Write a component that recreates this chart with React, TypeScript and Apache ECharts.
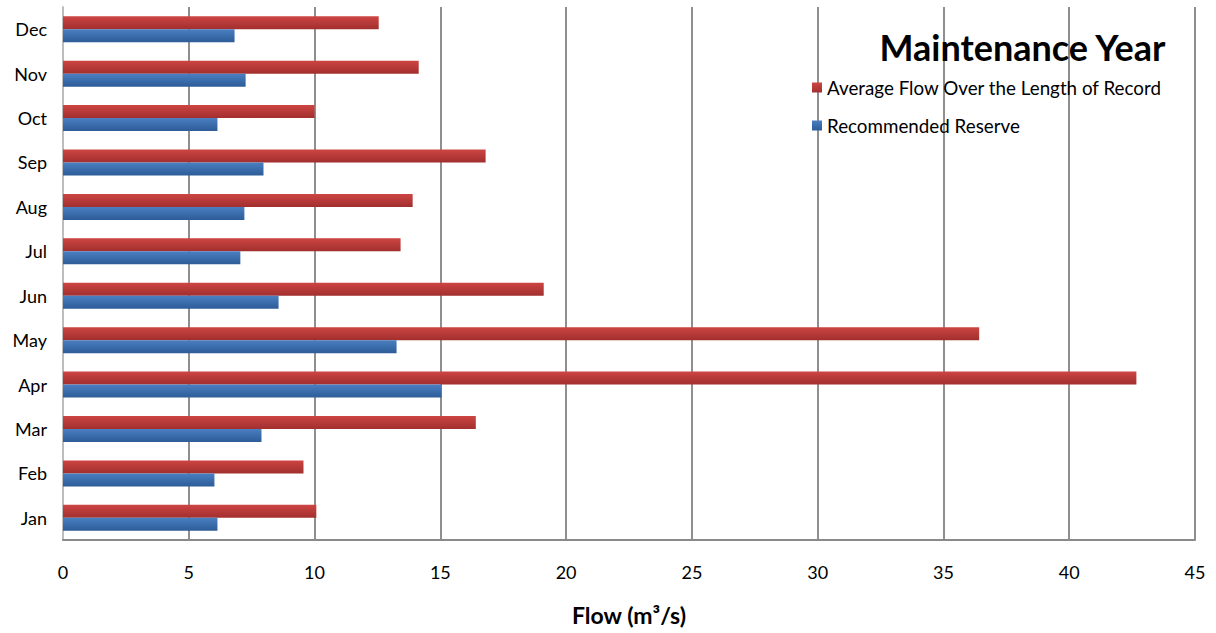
import React, { useEffect, useRef } from "react";
import * as echarts from "echarts";

const months = ["Jan", "Feb", "Mar", "Apr", "May", "Jun", "Jul", "Aug", "Sep", "Oct", "Nov", "Dec"];
const averageFlow = [10.07, 9.56, 16.41, 42.67, 36.42, 19.11, 13.42, 13.9, 16.8, 10.0, 14.14, 12.55];
const recommendedReserve = [6.14, 6.02, 7.89, 15.05, 13.26, 8.57, 7.05, 7.21, 7.97, 6.14, 7.26, 6.82];
const seriesNames = ["Average Flow Over the Length of Record", "Recommended Reserve"];
const titleText = "Maintenance Year";
const axisTitle = "Flow (m³/s)";

const FONT = "Lato, 'Open Sans', sans-serif";

export default function App() {
  const ref = useRef<HTMLDivElement>(null);
  useEffect(() => {
    if (!ref.current) return;
    const chart = echarts.init(ref.current, undefined, { renderer: "svg" });
    const redGrad = new echarts.graphic.LinearGradient(0, 0, 0, 1, [
      { offset: 0, color: "#cd4543" },
      { offset: 1, color: "#a12f2e" },
    ]);
    const blueGrad = new echarts.graphic.LinearGradient(0, 0, 0, 1, [
      { offset: 0, color: "#4a7fc1" },
      { offset: 1, color: "#2d5c98" },
    ]);
    chart.setOption({
      animation: false,
      backgroundColor: "#ffffff",
      textStyle: { fontFamily: FONT },
      title: {
        text: titleText,
        right: 49,
        top: 29,
        padding: 0,
        textStyle: { fontFamily: FONT, fontSize: 36, fontWeight: "bold", color: "#000" },
      },
      legend: {
        data: seriesNames,
        orient: "vertical",
        left: 807,
        top: 73,
        itemWidth: 10,
        itemHeight: 10,
        itemGap: 19,
        icon: "rect",
        textStyle: { fontFamily: FONT, fontSize: 18.8, color: "#000" },
      },
      grid: { left: 63, right: 21, top: 7, bottom: 93, containLabel: false },
      xAxis: {
        type: "value",
        min: 0,
        max: 45,
        interval: 5,
        name: axisTitle,
        nameLocation: "middle",
        nameGap: 63,
        nameTextStyle: { fontFamily: FONT, fontSize: 23, fontWeight: "bold", color: "#000" },
        axisLine: { show: true, lineStyle: { color: "#8a8a8a", width: 2 } },
        axisTick: { show: false },
        axisLabel: { color: "#000", fontSize: 18, margin: 23, fontFamily: FONT },
        splitLine: { show: true, lineStyle: { color: "#6a6a6a", width: 1.5 } },
      },
      yAxis: {
        type: "category",
        data: months,
        axisLine: { show: true, lineStyle: { color: "#bdbdbd", width: 2 } },
        axisTick: { show: false },
        axisLabel: { color: "#000", fontSize: 18, margin: 16, fontFamily: FONT },
      },
      series: [
        {
          name: seriesNames[0],
          type: "bar",
          data: averageFlow,
          itemStyle: { color: redGrad },
          barWidth: 13,
          barGap: "0%",
        },
        {
          name: seriesNames[1],
          type: "bar",
          data: recommendedReserve,
          itemStyle: { color: blueGrad },
          barWidth: 13,
          barGap: "0%",
        },
      ],
    });
    return () => chart.dispose();
  }, []);
  return (
    <div
      ref={ref}
      style={{ position: "fixed", left: 0, top: 0, width: 1216, height: 633 }}
    />
  );
}
